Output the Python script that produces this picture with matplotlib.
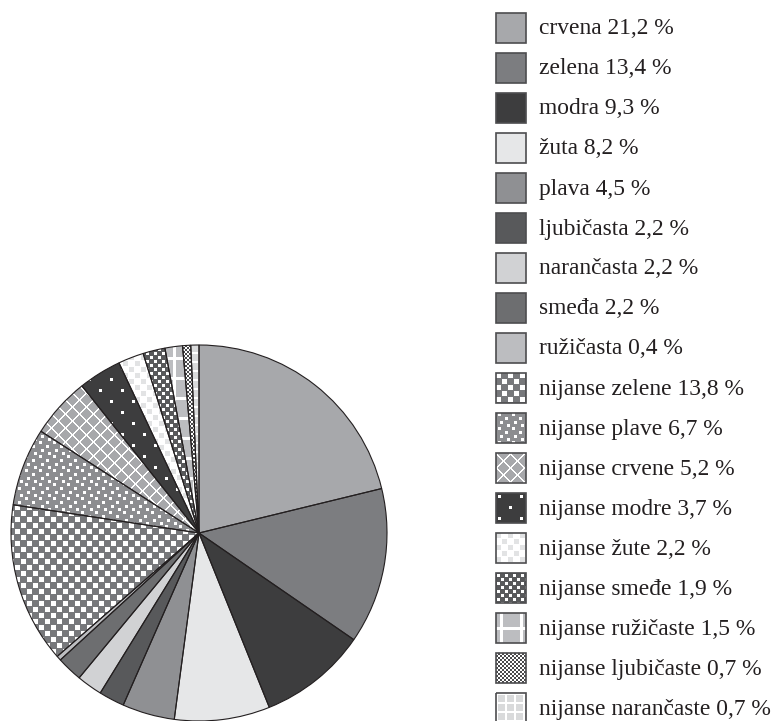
import matplotlib
matplotlib.use('Agg')
import matplotlib.pyplot as plt
from matplotlib.patches import Rectangle
import numpy as np

# podaci
labels = ['crvena', 'zelena', 'modra', 'žuta', 'plava', 'ljubičasta', 'narančasta',
          'smeđa', 'ružičasta', 'nijanse zelene', 'nijanse plave', 'nijanse crvene',
          'nijanse modre', 'nijanse žute', 'nijanse smeđe', 'nijanse ružičaste',
          'nijanse ljubičaste', 'nijanse narančaste']
values = [21.2, 13.4, 9.3, 8.2, 4.5, 2.2, 2.2, 2.2, 0.4, 13.8, 6.7, 5.2,
          3.7, 2.2, 1.9, 1.5, 0.7, 0.7]


def hx(c):
    c = c.lstrip('#')
    return np.array([int(c[i:i + 2], 16) / 255 for i in (0, 2, 4)])


def tile(base, size, cells=(), fg='#ffffff', fn=None):
    t = np.ones((size, size, 3)) * hx(base)
    for (r, c, h, w) in cells:
        t[r:r + h, c:c + w] = hx(fg)
    if fn is not None:
        ii, jj = np.mgrid[0:size, 0:size]
        t[fn(ii, jj)] = hx(fg)
    return t


# uzorci (teksture) za svaki isjecak
styles = [
    tile('#a7a8ab', 4),
    tile('#7c7d80', 4),
    tile('#3d3d3e', 4),
    tile('#e6e7e8', 4),
    tile('#8f9093', 4),
    tile('#58595b', 4),
    tile('#d1d2d4', 4),
    tile('#6d6e70', 4),
    tile('#bcbdc0', 4),
    tile('#77787b', 12, [(0, 0, 5, 5), (6, 6, 5, 5)]),
    tile('#8c8d90', 14, [(0, 2, 3, 3), (4, 9, 3, 3), (8, 4, 3, 3), (11, 11, 3, 3)]),
    tile('#a7a8ab', 14, fn=lambda i, j: ((i + j) % 14 < 2) | ((i - j) % 14 < 2)),
    tile('#3d3d3e', 22, [(2, 2, 3, 3), (13, 13, 3, 3)]),
    tile('#ffffff', 12, [(0, 0, 5, 5), (6, 6, 5, 5)], fg='#e2e3e4'),
    tile('#58595b', 8, [(1, 1, 3, 3), (5, 5, 3, 3)]),
    tile('#bcbdc0', 20, fn=lambda i, j: (i % 20 >= 14) & (i % 20 < 17) | (j % 20 >= 4) & (j % 20 < 7)),
    tile('#4a4a4c', 4, [(0, 0, 2, 2), (2, 2, 2, 2)]),
    tile('#d9dadb', 9, fn=lambda i, j: (i % 9 < 2) | (j % 9 < 2)),
]


def texture(t, n):
    reps = n // t.shape[0] + 2
    return np.tile(t, (reps, reps, 1))[:n, :n]


W, H = 778, 721
fig = plt.figure(figsize=(W / 100, H / 100), dpi=100)

# pita
R_px = 188
cx, cy = 199, 533
lim = 1.01
size_px = 2 * lim * R_px
ax = fig.add_axes([(cx - size_px / 2) / W, (H - cy - size_px / 2) / H, size_px / W, size_px / H])
wedges, _ = ax.pie(values, startangle=90, counterclock=False, radius=1,
                   wedgeprops=dict(linewidth=0.8, edgecolor='#231f20'))
npx = int(round(size_px))
for w, t in zip(wedges, styles):
    w.set_facecolor('none')
    w.set_zorder(3)
    im = ax.imshow(texture(t, npx), extent=[-lim, lim, -lim, lim],
                   interpolation='nearest', zorder=1)
    im.set_clip_path(w)
ax.set_xlim(-lim, lim)
ax.set_ylim(-lim, lim)
ax.set_aspect('equal')
ax.axis('off')

# legenda
lax = fig.add_axes([0, 0, 1, 1])
lax.set_xlim(0, W)
lax.set_ylim(H, 0)
lax.axis('off')
for i, (lab, val, t) in enumerate(zip(labels, values, styles)):
    yc = 28 + 40 * i
    x0, x1 = 496, 526
    lax.imshow(texture(t, 30), extent=[x0, x1, yc + 15, yc - 15],
               interpolation='nearest', zorder=1)
    lax.add_patch(Rectangle((x0, yc - 15), 30, 30, facecolor='none',
                            edgecolor='#4d4d4f', linewidth=1.2, zorder=2))
    txt = f'{lab} {val:.1f} %'.replace('.', ',')
    lax.text(539, yc + 1, txt, fontsize=16.9, family='Liberation Serif',
             color='#231f20', va='center', ha='left')
lax.set_xlim(0, W)
lax.set_ylim(H, 0)

fig.savefig('out.png', dpi=100)
